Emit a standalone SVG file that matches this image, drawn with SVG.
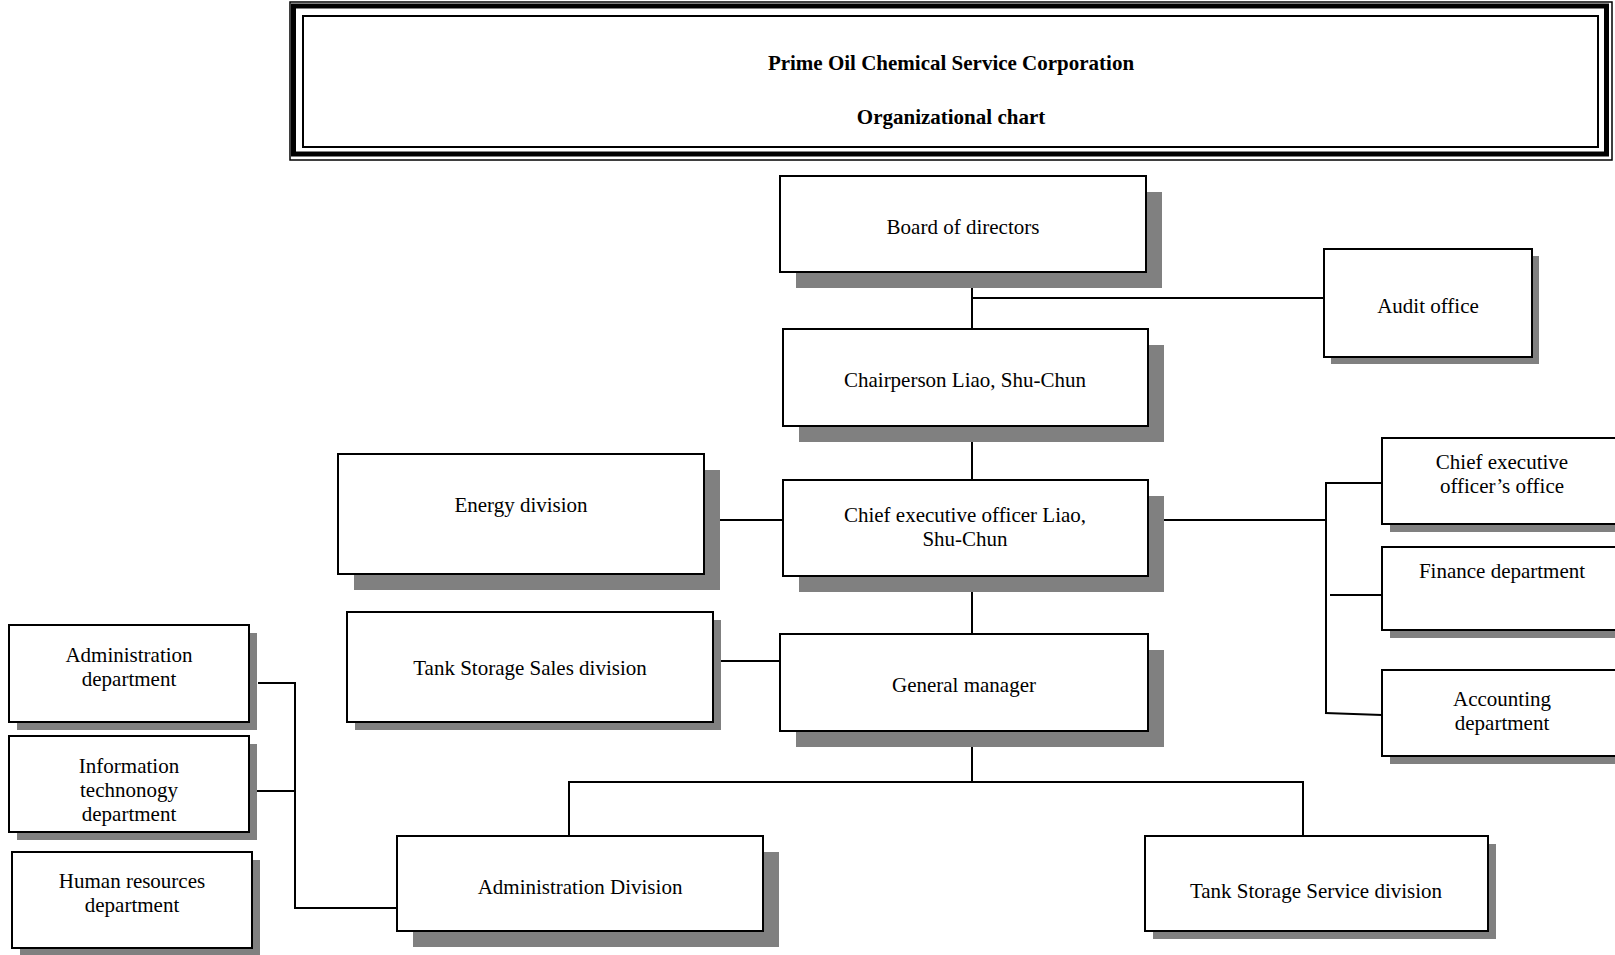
<svg xmlns="http://www.w3.org/2000/svg" width="1615" height="955" viewBox="0 0 1615 955">
<style>
.box{fill:#ffffff;stroke:#000000;stroke-width:2}
.sh{fill:#808080;stroke:none}
.t{font-family:"Liberation Serif","Times New Roman",serif;font-size:21px;fill:#000000;text-anchor:middle}
.tb{font-family:"Liberation Serif","Times New Roman",serif;font-size:21px;font-weight:bold;fill:#000000;text-anchor:middle}
.c{fill:none;stroke:#000000;stroke-width:2}
</style>
<rect width="1615" height="955" fill="#ffffff"/>
<g id="title">
<rect x="290" y="2" width="1322" height="158" fill="none" stroke="#000" stroke-width="1.5"/>
<rect x="293.5" y="6" width="1313" height="148" fill="none" stroke="#000" stroke-width="5"/>
<rect x="303" y="16" width="1295" height="131" fill="#fff" stroke="#000" stroke-width="2"/>
<text class="tb" x="951" y="70">Prime Oil Chemical Service Corporation</text>
<text class="tb" x="951" y="124">Organizational chart</text>
</g>
<g id="connectors">
<line class="c" x1="972" y1="272" x2="972" y2="329"/>
<line class="c" x1="972" y1="298" x2="1324" y2="298"/>
<line class="c" x1="972" y1="426" x2="972" y2="480"/>
<line class="c" x1="704" y1="520" x2="783" y2="520"/>
<line class="c" x1="1148" y1="520" x2="1326" y2="520"/>
<line class="c" x1="1326" y1="482" x2="1326" y2="714"/>
<line class="c" x1="1325" y1="483" x2="1382" y2="483"/>
<line class="c" x1="1330" y1="595" x2="1382" y2="595"/>
<polyline class="c" points="1325,713 1382,715"/>
<line class="c" x1="972" y1="576" x2="972" y2="634"/>
<line class="c" x1="713" y1="661" x2="780" y2="661"/>
<line class="c" x1="972" y1="731" x2="972" y2="782"/>
<polyline class="c" points="569,836 569,782 1303,782 1303,836"/>
<line class="c" x1="258" y1="683" x2="296" y2="683"/>
<line class="c" x1="252" y1="791" x2="296" y2="791"/>
<polyline class="c" points="295,682 295,908 397,908"/>
</g>
<g id="board">
<rect class="sh" x="796" y="192" width="366" height="96"/>
<rect class="box" x="780" y="176" width="366" height="96"/>
<text class="t" x="963" y="234">Board of directors</text>
</g>
<g id="audit">
<rect class="sh" x="1331" y="256" width="208" height="108"/>
<rect class="box" x="1324" y="249" width="208" height="108"/>
<text class="t" x="1428" y="313">Audit office</text>
</g>
<g id="chair">
<rect class="sh" x="799" y="345" width="365" height="97"/>
<rect class="box" x="783" y="329" width="365" height="97"/>
<text class="t" x="965" y="387">Chairperson Liao, Shu-Chun</text>
</g>
<g id="energy">
<rect class="sh" x="354" y="470" width="366" height="120"/>
<rect class="box" x="338" y="454" width="366" height="120"/>
<text class="t" x="521" y="512">Energy division</text>
</g>
<g id="ceo">
<rect class="sh" x="799" y="496" width="365" height="96"/>
<rect class="box" x="783" y="480" width="365" height="96"/>
<text class="t" x="965" y="522">Chief executive officer Liao,</text>
<text class="t" x="965" y="546">Shu-Chun</text>
</g>
<g id="ceo-office">
<rect class="sh" x="1390" y="446" width="245" height="86"/>
<rect class="box" x="1382" y="438" width="245" height="86"/>
<text class="t" x="1502" y="469">Chief executive</text>
<text class="t" x="1502" y="493">officer’s office</text>
</g>
<g id="finance">
<rect class="sh" x="1390" y="555" width="245" height="83"/>
<rect class="box" x="1382" y="547" width="245" height="83"/>
<text class="t" x="1502" y="578">Finance department</text>
</g>
<g id="accounting">
<rect class="sh" x="1390" y="678" width="245" height="86"/>
<rect class="box" x="1382" y="670" width="245" height="86"/>
<text class="t" x="1502" y="706">Accounting</text>
<text class="t" x="1502" y="730">department</text>
</g>
<g id="tank-sales">
<rect class="sh" x="355" y="620" width="366" height="110"/>
<rect class="box" x="347" y="612" width="366" height="110"/>
<text class="t" x="530" y="675">Tank Storage Sales division</text>
</g>
<g id="gm">
<rect class="sh" x="796" y="650" width="368" height="97"/>
<rect class="box" x="780" y="634" width="368" height="97"/>
<text class="t" x="964" y="692">General manager</text>
</g>
<g id="admin-dept">
<rect class="sh" x="17" y="633" width="240" height="97"/>
<rect class="box" x="9" y="625" width="240" height="97"/>
<text class="t" x="129" y="662">Administration</text>
<text class="t" x="129" y="686">department</text>
</g>
<g id="it-dept">
<rect class="sh" x="17" y="744" width="240" height="96"/>
<rect class="box" x="9" y="736" width="240" height="96"/>
<text class="t" x="129" y="773">Information</text>
<text class="t" x="129" y="797">technonogy</text>
<text class="t" x="129" y="821">department</text>
</g>
<g id="hr-dept">
<rect class="sh" x="20" y="860" width="240" height="96"/>
<rect class="box" x="12" y="852" width="240" height="96"/>
<text class="t" x="132" y="888">Human resources</text>
<text class="t" x="132" y="912">department</text>
</g>
<g id="admin-division">
<rect class="sh" x="413" y="852" width="366" height="95"/>
<rect class="box" x="397" y="836" width="366" height="95"/>
<text class="t" x="580" y="894">Administration Division</text>
</g>
<g id="tank-service">
<rect class="sh" x="1153" y="844" width="343" height="95"/>
<rect class="box" x="1145" y="836" width="343" height="95"/>
<text class="t" x="1316" y="898">Tank Storage Service division</text>
</g>
</svg>
